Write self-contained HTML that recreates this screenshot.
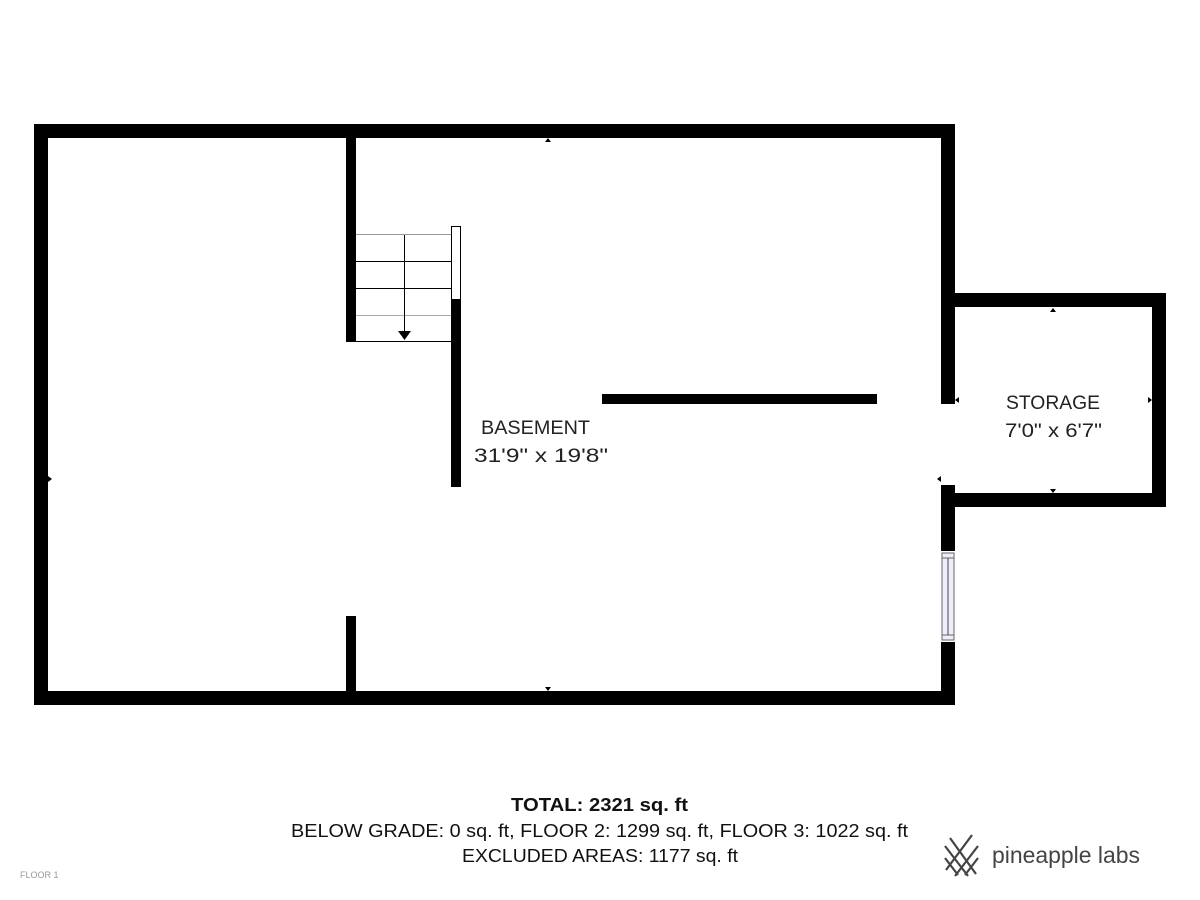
<!DOCTYPE html>
<html><head><style>body{margin:0;background:#fff}svg{display:block}</style></head><body>
<svg width="1200" height="900" viewBox="0 0 1200 900" xmlns="http://www.w3.org/2000/svg" font-family="'Liberation Sans', sans-serif">
<rect width="1200" height="900" fill="#fff"/>
<rect x="948" y="300" width="211" height="200" fill="none" stroke="#000" stroke-width="14"/>
<rect x="41" y="131" width="907" height="567" fill="none" stroke="#000" stroke-width="14"/>
<rect x="940" y="404" width="17" height="81" fill="#fff"/>
<rect x="941" y="551" width="14" height="91" fill="#fff"/>
<rect x="942" y="553" width="12" height="87" fill="#eeeefa" stroke="#666" stroke-width="1"/>
<line x1="942" y1="558" x2="954" y2="558" stroke="#666"/>
<line x1="942" y1="635" x2="954" y2="635" stroke="#666"/>
<line x1="948" y1="558" x2="948" y2="635" stroke="#444"/>
<rect x="346" y="131" width="10" height="211" fill="#000"/>
<rect x="346" y="616" width="10" height="82" fill="#000"/>
<rect x="451" y="300" width="10" height="187" fill="#000"/>
<rect x="451.5" y="226.5" width="9" height="73" fill="#fff" stroke="#000" stroke-width="1"/>
<rect x="602" y="394" width="275" height="10" fill="#000"/>
<g stroke-width="1">
<line x1="356" y1="234.5" x2="451" y2="234.5" stroke="#999"/>
<line x1="356" y1="261.5" x2="451" y2="261.5" stroke="#000"/>
<line x1="356" y1="288.5" x2="451" y2="288.5" stroke="#000"/>
<line x1="356" y1="315.5" x2="451" y2="315.5" stroke="#aaa"/>
<line x1="356" y1="341.5" x2="451" y2="341.5" stroke="#000"/>
<line x1="404.5" y1="235" x2="404.5" y2="332" stroke="#000"/>
</g>
<polygon points="398,331 411,331 404.5,340" fill="#000"/>
<g fill="#000">
<polygon points="545,142 551,142 548,138"/>
<polygon points="545,687 551,687 548,691"/>
<polygon points="48,476 48,482 52,479"/>
<polygon points="941,476 941,482 937,479"/>
<polygon points="1050,312 1056,312 1053,308"/>
<polygon points="1050,489 1056,489 1053,493"/>
<polygon points="959,397 959,403 955,400"/>
<polygon points="1148,397 1148,403 1152,400"/>
</g>
<g fill="#222" font-size="19">
<text x="481" y="434" textLength="109" lengthAdjust="spacingAndGlyphs">BASEMENT</text>
<text x="474" y="462" textLength="134" lengthAdjust="spacingAndGlyphs">31'9" x 19'8"</text>
<text x="1006" y="409" textLength="94" lengthAdjust="spacingAndGlyphs">STORAGE</text>
<text x="1005" y="437" textLength="97" lengthAdjust="spacingAndGlyphs">7'0" x 6'7"</text>
</g>
<g fill="#111" font-size="18">
<text x="511" y="811" font-weight="bold" textLength="177" lengthAdjust="spacingAndGlyphs">TOTAL: 2321 sq. ft</text>
<text x="291" y="837" textLength="617" lengthAdjust="spacingAndGlyphs">BELOW GRADE: 0 sq. ft, FLOOR 2: 1299 sq. ft, FLOOR 3: 1022 sq. ft</text>
<text x="462" y="862" textLength="276" lengthAdjust="spacingAndGlyphs">EXCLUDED AREAS: 1177 sq. ft</text>
</g>
<text x="20" y="878" font-size="9" fill="#999">FLOOR 1</text>
<g stroke="#444" stroke-width="2.2">
<line x1="950" y1="838" x2="976" y2="874"/>
<line x1="945" y1="846" x2="968" y2="876"/>
<line x1="945" y1="858" x2="958" y2="875"/>
<line x1="972" y1="835" x2="946" y2="870"/>
<line x1="978" y1="846" x2="955" y2="876"/>
<line x1="978" y1="858" x2="965" y2="875"/>
</g>
<text x="992" y="863" font-size="23" fill="#444" textLength="148" lengthAdjust="spacingAndGlyphs">pineapple labs</text>
</svg>
</body></html>
